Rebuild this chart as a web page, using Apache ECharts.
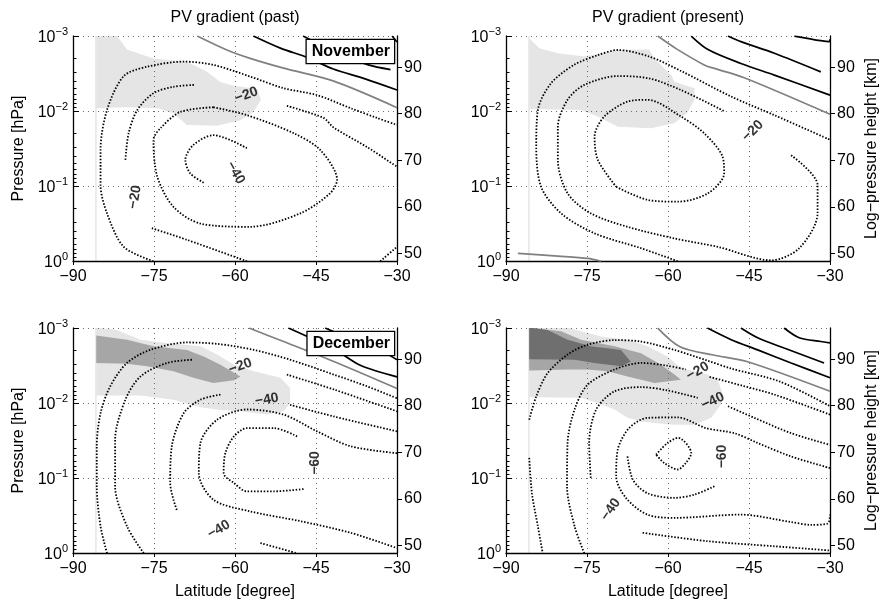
<!DOCTYPE html>
<html>
<head>
<meta charset="utf-8">
<script src="https://cdn.jsdelivr.net/npm/echarts@6/dist/echarts.min.js"></script>
<style>
  html, body { margin: 0; padding: 0; background: #fff; }
  #chart { width: 882px; height: 606px; }
</style>
</head>
<body>
<div id="chart"></div>
<script>
// ---------------------------------------------------------------------------
// Axes: latitude (degree), pressure (hPa, log) and log-pressure height (km)
// ---------------------------------------------------------------------------
const latTicks = [-90, -75, -60, -45, -30];
const pressureTop = 0.001, pressureBottom = 1;
const heightTicks = [50, 60, 70, 80, 90];
const scaleHeight = 7;                         // km, z = H ln(1000 hPa / p)
const zBottom = scaleHeight * Math.log(1000 / pressureBottom);
const zTop = scaleHeight * Math.log(1000 / pressureTop);
const domainEdgeLat = -85.75;                   // poleward edge of the data

const panelTitles = ['PV gradient (past)', 'PV gradient (present)'];
const monthNames = ['November', 'December'];

// Contours are stored as [latitude, log-pressure height km] polylines.

// ---------------- November, past ----------------
const novPastPositive = [
  [[-56.6, 96.7], [-51.6, 94.1], [-46.4, 92.0], [-41.8, 89.6], [-35.9, 87.5], [-30, 85.1]],
  [[-47.4, 96.7], [-41.4, 93.3], [-35.3, 90.5], [-31.2, 89.5]],
  [[-30.9, 96.7], [-30, 95.4]]
];
const novPastZero = [
  [[-67.0, 96.7], [-61.5, 93.7], [-57.2, 91.9], [-51.0, 89.8], [-41.7, 87.0], [-30, 81.3]]
];
const novPastNegative = [
  [[-75.1, 48.3], [-80.6, 51.4], [-83.7, 58.6], [-84.9, 64.7], [-84.9, 72.2], [-83.7, 80.8], [-80.6, 88.1], [-76.3, 90.1], [-69.5, 91.2], [-64.0, 90.5], [-57.2, 88.0], [-51.0, 85.5], [-44.8, 84.0], [-38.6, 81.2], [-33.7, 79.1], [-30, 77.6]],
  [[-57.8, 48.3], [-68.9, 52.9], [-75.4, 55.4]],
  [[-80.3, 70.1], [-79.7, 75.8], [-78.1, 80.8], [-75.1, 84.4], [-71.4, 85.8], [-67.4, 86.2]],
  [[-50.4, 81.7], [-43.6, 79.1], [-41.8, 77.1], [-35.5, 72.8], [-30, 68.6]],
  [[-64.0, 81.4], [-57.8, 79.7], [-49.1, 75.8], [-44.2, 72.2], [-41.1, 65.8], [-42.4, 62.9], [-47.9, 58.6], [-57.2, 55.7], [-66.4, 56.4], [-71.4, 60.0], [-74.4, 66.5], [-75.1, 74.4], [-73.8, 76.9], [-70.1, 80.4], [-64.0, 81.4]],
  [[-65.8, 65.2], [-68.3, 67.2], [-69.2, 70.1], [-67.7, 73.3], [-64.0, 75.4], [-57.8, 72.6]],
  [[-33.1, 48.3], [-30, 51.4]]
];
const novPastShadeLight = [
  [-85.7, 96.8], [-81.9, 96.8], [-80.0, 93.8], [-75.1, 91.9], [-68.9, 91.2], [-65.2, 89.0], [-62.7, 86.8], [-60.3, 86.0],
  [-55.9, 85.3], [-55.2, 83.0], [-56.6, 80.4], [-59.0, 78.6], [-63.3, 77.4], [-68.9, 77.6], [-71.4, 80.1], [-74.4, 81.2],
  [-80.0, 81.4], [-85.7, 81.2]
];
const novPastLabels = [[-57.9, 84.0, -20], [-78.5, 62.1, -20], [-59.9, 67.3, -40]];
const novPastLabelAngles = [20, 80, -60];

// ---------------- November, present ----------------
const novPresPositive = [
  [[-55.7, 96.7], [-52.6, 93.8], [-46.5, 90.8], [-40.3, 88.3], [-30, 84.0]],
  [[-48.9, 96.7], [-46.5, 95.5], [-40.3, 93.0], [-31.7, 89.0]],
  [[-36.6, 96.7], [-31.7, 95.7], [-30.1, 95.5], [-30, 96.0]]
];
const novPresZero = [
  [[-61.9, 96.7], [-58.5, 94.0], [-53.3, 90.5], [-51.6, 89.8], [-46.0, 87.8], [-30, 79.9]],
  [[-87.8, 50.0], [-80.4, 49.4], [-74.9, 48.9], [-72.4, 48.3]]
];
const novPresNegative = [
  [[-58.2, 48.3], [-65.0, 51.1], [-73.6, 54.3], [-79.8, 58.6], [-83.5, 64.3], [-84.4, 72.9], [-84.1, 80.8], [-81.7, 86.5], [-77.4, 90.5], [-73.0, 92.6], [-69.3, 93.7], [-63.5, 92.3], [-57.6, 89.2], [-48.3, 83.7], [-40.3, 79.7], [-30, 74.4]],
  [[-37.2, 71.1], [-32.3, 64.7], [-32.3, 58.6], [-35.7, 51.1], [-40.9, 48.5], [-50.8, 51.4], [-58.8, 53.2], [-67.5, 55.7], [-74.3, 58.6], [-78.6, 62.9], [-80.4, 70.1], [-80.4, 77.2], [-78.6, 83.0], [-75.5, 86.2], [-69.3, 88.1], [-63.5, 87.6], [-57.6, 85.1], [-49.5, 80.5]],
  [[-69.6, 64.3], [-63.8, 61.5], [-58.2, 61.1], [-52.6, 62.9], [-49.6, 67.2], [-49.9, 70.8], [-53.3, 75.8], [-57.6, 79.4], [-63.8, 83.0], [-67.5, 82.6], [-71.8, 79.4], [-73.6, 75.1], [-73.0, 70.1], [-69.6, 64.3]]
];
const novPresShadeLight = [
  [-85.7, 96.2], [-83.8, 94.1], [-80.4, 93.0], [-75.5, 92.3], [-69.3, 93.7], [-63.5, 93.8], [-62.5, 91.9], [-59.4, 88.3],
  [-58.8, 86.9], [-55.1, 85.5], [-55.1, 83.0], [-56.4, 80.2], [-58.8, 78.0], [-63.1, 76.9], [-69.3, 77.2], [-73.0, 79.4],
  [-76.1, 80.8], [-85.7, 81.0]
];
const novPresLabels = [[-44.3, 76.3, -20]];
const novPresLabelAngles = [45];

// ---------------- December, past ----------------
const decPastPositive = [
  [[-50.1, 96.7], [-46.1, 94.6], [-41.4, 92.0], [-36.8, 88.7], [-30, 86.2]],
  [[-43.3, 96.7], [-36.8, 93.5], [-32.3, 91.4], [-30, 89.9]]
];
const decPastZero = [
  [[-57.4, 96.7], [-51.0, 93.8], [-41.7, 89.5], [-30, 83.7]]
];
const decPastNegative = [
  [[-83.7, 48.3], [-84.9, 54.1], [-85.6, 62.7], [-85.6, 71.3], [-84.9, 78.4], [-83.1, 84.2], [-80.0, 89.2], [-75.7, 92.0], [-68.9, 93.6], [-63.3, 93.3], [-56.5, 92.0], [-49.8, 89.9], [-41.7, 86.7], [-35.6, 84.2], [-30, 81.6]],
  [[-76.9, 48.3], [-80.0, 54.1], [-82.2, 62.7], [-82.2, 72.7], [-80.3, 81.3], [-77.5, 86.3], [-72.6, 89.2], [-67.7, 89.9]],
  [[-50.4, 86.7], [-41.7, 83.5], [-30, 78.8]],
  [[-30, 74.5], [-41.7, 77.7], [-49.8, 80.2]],
  [[-62.7, 82.4], [-66.4, 81.3], [-69.5, 78.4], [-71.7, 71.3], [-72.0, 63.4], [-70.7, 57.3]],
  [[-55.3, 50.5], [-48.5, 48.3]],
  [[-30, 69.8], [-38.6, 71.3], [-44.8, 74.5], [-51.0, 78.1], [-57.8, 79.2], [-63.3, 77.0], [-66.4, 72.0], [-66.7, 65.5], [-64.0, 59.8], [-57.2, 57.3], [-47.9, 55.2], [-38.6, 52.7], [-30, 49.4]],
  [[-48.5, 73.4], [-52.8, 75.2], [-57.8, 75.2], [-60.2, 73.4], [-61.8, 69.8], [-62.1, 65.5], [-60.2, 63.4], [-57.8, 61.6], [-52.8, 61.6], [-47.3, 62.1]]
];
const decPastShadeLight = [
  [-85.7, 96.8], [-81.9, 96.3], [-77.5, 94.2], [-72.6, 93.5], [-66.4, 92.8], [-63.3, 91.0], [-60.2, 88.8], [-56.5, 87.4],
  [-51.6, 86.0], [-49.8, 83.8], [-49.8, 80.6], [-51.0, 78.8], [-54.1, 78.1], [-59.0, 78.8], [-63.3, 79.2], [-66.4, 79.7],
  [-71.4, 81.3], [-77.5, 82.2], [-85.7, 82.2]
];
const decPastShadeMid = [
  [-85.7, 95.1], [-80.0, 94.2], [-75.1, 92.8], [-68.9, 92.0], [-65.8, 90.6], [-62.7, 88.8], [-59.0, 86.3], [-60.2, 85.5],
  [-64.0, 84.9], [-67.7, 86.0], [-71.4, 87.4], [-76.3, 88.5], [-80.0, 89.0], [-85.7, 89.2]
];
const decPastLabels = [[-59.0, 88.5, -20], [-54.1, 81.3, -40], [-45.1, 67.7, -60], [-63.0, 53.4, -40]];
const decPastLabelAngles = [20, 10, 90, 30];

// ---------------- December, present ----------------
const decPresPositive = [
  [[-52.7, 96.7], [-48.3, 94.2], [-43.4, 92.0], [-37.2, 89.2], [-30, 86.0]],
  [[-46.5, 96.7], [-43.4, 94.6], [-38.5, 92.4], [-31.1, 89.2]],
  [[-38.5, 96.7], [-35.7, 94.6], [-31.7, 93.8], [-30, 93.5]]
];
const decPresZero = [
  [[-61.9, 96.7], [-57.8, 92.7], [-51.6, 90.9], [-45.4, 89.5], [-30, 83.1]]
];
const decPresNegative = [
  [[-85.7, 77.0], [-84.4, 82.0], [-82.3, 87.0], [-78.6, 91.0], [-74.9, 93.1], [-69.9, 94.1], [-65.0, 93.8], [-58.8, 92.0], [-52.7, 89.7], [-48.3, 88.0], [-39.3, 85.2], [-30, 79.9]],
  [[-85.7, 68.8], [-85.2, 61.2], [-84.1, 54.1], [-83.2, 48.3]],
  [[-75.5, 48.3], [-77.3, 54.1], [-78.7, 62.7], [-78.6, 72.0], [-77.3, 79.2], [-74.9, 84.5], [-69.9, 87.8], [-65.0, 89.2], [-60.1, 88.6], [-56.7, 87.8]],
  [[-52.3, 86.2], [-46.2, 84.3], [-40.3, 82.4], [-30, 78.1]],
  [[-74.3, 64.5], [-74.6, 72.0], [-73.3, 79.2], [-69.9, 83.1], [-65.0, 84.0], [-60.1, 83.3], [-54.5, 81.7]],
  [[-48.9, 79.9], [-44.0, 77.4], [-37.2, 74.1], [-30, 71.6]],
  [[-64.7, 52.7], [-52.7, 50.9], [-40.3, 49.8], [-30, 48.9]],
  [[-30, 66.6], [-37.2, 69.1], [-43.4, 72.0], [-47.7, 74.1], [-53.0, 75.2], [-58.2, 77.5], [-63.8, 77.4], [-67.2, 75.2], [-69.3, 70.6], [-69.6, 64.8], [-67.8, 60.2], [-63.8, 56.6], [-58.8, 55.9], [-46.5, 56.6], [-37.2, 55.0], [-33.5, 54.4], [-30.4, 54.7], [-30, 56.6]],
  [[-67.5, 69.1], [-66.5, 64.1], [-63.8, 61.2], [-58.8, 60.2], [-55.1, 60.9], [-51.4, 62.7]],
  [[-62.2, 69.5], [-60.1, 72.0], [-58.1, 73.1], [-55.7, 69.8], [-56.7, 67.7], [-58.2, 66.3], [-60.7, 67.7], [-62.2, 69.5]]
];
const decPresShadeLight = [
  [-85.7, 96.8], [-78.6, 96.8], [-76.1, 96.0], [-72.4, 94.9], [-67.5, 94.2], [-63.8, 92.8], [-60.1, 90.6], [-57.6, 88.1],
  [-52.7, 86.7], [-50.8, 85.6], [-49.9, 82.7], [-50.2, 80.2], [-52.0, 77.4], [-55.1, 75.9], [-58.8, 75.9], [-62.5, 76.3],
  [-65.0, 76.6], [-67.5, 77.4], [-69.9, 79.2], [-73.0, 80.6], [-76.1, 81.7], [-85.7, 81.8]
];
const decPresShadeMid = [
  [-85.7, 96.8], [-79.8, 96.0], [-76.1, 94.2], [-69.9, 92.8], [-65.0, 91.3], [-61.3, 88.8], [-58.8, 86.7], [-57.6, 85.6],
  [-62.5, 84.9], [-67.5, 86.3], [-71.2, 87.4], [-74.9, 87.8], [-78.6, 87.8], [-85.7, 87.6]
];
const decPresShadeDark = [
  [-85.7, 96.8], [-82.3, 96.3], [-78.6, 94.2], [-74.3, 92.8], [-68.7, 92.0], [-66.9, 89.5], [-68.7, 88.5], [-73.6, 89.2],
  [-77.3, 89.9], [-85.7, 90.0]
];
const decPresLabels = [[-54.5, 87.4, -20], [-51.7, 81.0, -40], [-49.9, 69.1, -60], [-70.6, 57.7, -40]];
const decPresLabelAngles = [30, 25, 90, 55];

// ---------------------------------------------------------------------------
// Styling
// ---------------------------------------------------------------------------
const FONT = 'Liberation Sans, Arial, Helvetica, sans-serif';
const SHADE_LIGHT = '#e5e5e5';
const SHADE_MID = '#a6a6a6';
const SHADE_DARK = '#6f6f6f';
const positiveStyle = { color: '#000', width: 1.7, type: 'solid' };
const zeroStyle = { color: '#808080', width: 1.7, type: 'solid' };
const negativeStyle = { color: '#000', width: 1.8, type: [1.5, 1.7] };
const gridLineStyle = { color: '#6a6a6a', width: 1, type: [1, 4] };

const gridBoxes = [
  { left: 73, top: 36, width: 324, height: 225 },
  { left: 506, top: 36, width: 324, height: 225 },
  { left: 73, top: 328, width: 324, height: 225 },
  { left: 506, top: 328, width: 324, height: 225 }
];

const panels = [
  { positive: novPastPositive, zero: novPastZero, negative: novPastNegative,
    shades: [[novPastShadeLight, SHADE_LIGHT]], labels: novPastLabels, angles: novPastLabelAngles },
  { positive: novPresPositive, zero: novPresZero, negative: novPresNegative,
    shades: [[novPresShadeLight, SHADE_LIGHT]], labels: novPresLabels, angles: novPresLabelAngles },
  { positive: decPastPositive, zero: decPastZero, negative: decPastNegative,
    shades: [[decPastShadeLight, SHADE_LIGHT], [decPastShadeMid, SHADE_MID]], labels: decPastLabels, angles: decPastLabelAngles },
  { positive: decPresPositive, zero: decPresZero, negative: decPresNegative,
    shades: [[decPresShadeLight, SHADE_LIGHT], [decPresShadeMid, SHADE_MID], [decPresShadeDark, SHADE_DARK]],
    labels: decPresLabels, angles: decPresLabelAngles }
];

// minor ticks of the pressure axis: 2..9 x each decade
const pressureMinorTicks = [];
for (let d = -3; d < 0; d++) {
  for (let m = 2; m <= 9; m++) pressureMinorTicks.push(+(m * Math.pow(10, d)).toPrecision(3));
}

const minus = (v) => (v < 0 ? '\u2212' + Math.abs(v) : String(v));

// ---------------------------------------------------------------------------
// Axes (per grid: log pressure axis, height axis, minor-tick pressure axis)
// ---------------------------------------------------------------------------
const xAxes = [], yAxes = [];
const nameStyle = { fontSize: 16, fontFamily: FONT, color: '#000' };
gridBoxes.forEach((g, i) => {
  const isBottom = i >= 2, isLeft = i % 2 === 0;
  xAxes.push({
    type: 'value', gridIndex: i, min: latTicks[0], max: latTicks[latTicks.length - 1], interval: 15,
    axisLine: { show: true, onZero: false, lineStyle: { color: '#000', width: 1.3 } },
    axisTick: { show: true, length: 4, lineStyle: { color: '#000', width: 1 } },
    axisLabel: { fontSize: 16, fontFamily: FONT, color: '#000', margin: 8, formatter: minus },
    splitLine: { show: true, lineStyle: gridLineStyle },
    name: isBottom ? 'Latitude [degree]' : '', nameLocation: 'middle', nameGap: 31, nameTextStyle: nameStyle
  });
  yAxes.push({
    type: 'log', logBase: 10, gridIndex: i, min: pressureTop, max: pressureBottom, inverse: true, position: 'left',
    axisLine: { show: true, onZero: false, lineStyle: { color: '#000', width: 1.3 } },
    axisTick: { show: true, inside: true, length: 6, lineStyle: { color: '#000', width: 1 } },
    axisLabel: {
      margin: 5, showMinLabel: true, showMaxLabel: true,
      formatter: (v) => '{b|10}{e|' + minus(Math.round(Math.log10(v))) + '}',
      rich: {
        b: { fontSize: 16, fontFamily: FONT, color: '#000', verticalAlign: 'bottom' },
        e: { fontSize: 11, fontFamily: FONT, color: '#000', verticalAlign: 'bottom', padding: [0, 0, 8, 0] }
      }
    },
    splitLine: { show: true, lineStyle: gridLineStyle },
    name: isLeft ? 'Pressure [hPa]' : '', nameLocation: 'middle', nameGap: 46, nameTextStyle: nameStyle
  });
  yAxes.push({
    type: 'value', gridIndex: i, min: zBottom, max: zTop, position: 'right',
    axisLine: { show: true, onZero: false, lineStyle: { color: '#000', width: 1.3 } },
    axisTick: { show: true, length: 5, customValues: heightTicks, lineStyle: { color: '#000', width: 1 } },
    axisLabel: { customValues: heightTicks, fontSize: 16, fontFamily: FONT, color: '#000', margin: 7 },
    splitLine: { show: false },
    name: isLeft ? '' : 'Log\u2212pressure height [km]', nameLocation: 'middle', nameRotate: 90, nameGap: 34,
    nameTextStyle: nameStyle
  });
  yAxes.push({
    type: 'log', logBase: 10, gridIndex: i, min: pressureTop, max: pressureBottom, inverse: true, position: 'left',
    axisLine: { show: false },
    axisTick: { show: true, inside: true, length: 3.5, customValues: pressureMinorTicks, lineStyle: { color: '#000', width: 1 } },
    axisLabel: { show: false },
    splitLine: { show: false }
  });
});

// ---------------------------------------------------------------------------
// Series
// ---------------------------------------------------------------------------
const series = [];
const hIdx = (i) => 3 * i + 1;       // height axis of grid i
function contour(pts, i, style) {
  series.push({
    type: 'line', xAxisIndex: i, yAxisIndex: hIdx(i), data: pts, symbol: 'none', showSymbol: false,
    smooth: 0.3, lineStyle: style, silent: true, animation: false, z: 3, clip: true
  });
}
function shade(pts, i, color) {
  series.push({
    type: 'custom', xAxisIndex: i, yAxisIndex: hIdx(i), data: [pts[0]], silent: true, animation: false,
    clip: true, z: -1,
    renderItem: (params, api) => ({
      type: 'polygon',
      shape: { points: pts.map((p) => api.coord(p)) },
      style: { fill: color }
    })
  });
}
panels.forEach((p, i) => {
  // poleward boundary of the data domain
  series.push({
    type: 'line', xAxisIndex: i, yAxisIndex: hIdx(i), data: [[domainEdgeLat, zBottom], [domainEdgeLat, zTop]],
    symbol: 'none', lineStyle: { color: '#d9d9d9', width: 1 }, silent: true, animation: false, z: -2
  });
  p.shades.forEach(([pts, color]) => shade(pts, i, color));
  p.zero.forEach((c) => contour(c, i, zeroStyle));
  p.positive.forEach((c) => contour(c, i, positiveStyle));
  p.negative.forEach((c) => contour(c, i, negativeStyle));
  series.push({
    type: 'scatter', xAxisIndex: i, yAxisIndex: hIdx(i), symbolSize: 1,
    itemStyle: { color: 'rgba(0,0,0,0)' },
    silent: true, animation: false, z: 4,
    data: p.labels.map((l, k) => ({ value: l, label: { rotate: p.angles[k] } })),
    label: {
      show: true, position: 'inside', color: '#000', fontSize: 14, fontWeight: 'bold', fontFamily: FONT,
      formatter: (d) => minus(d.value[2])
    },
    labelLayout: { hideOverlap: false }
  });
});

// ---------------------------------------------------------------------------
// Titles and month tags
// ---------------------------------------------------------------------------
const graphics = [];
panelTitles.forEach((t, k) => {
  const g = gridBoxes[k];
  graphics.push({
    type: 'text', x: g.left + g.width / 2, y: 10,
    style: { text: t, font: '16px ' + FONT, fill: '#000', textAlign: 'center', textVerticalAlign: 'top' }
  });
});
monthNames.forEach((m, k) => {
  const g = gridBoxes[2 * k];
  graphics.push({
    type: 'text', x: g.left + g.width - 3, y: g.top + 4, z: 10,
    style: {
      text: m, font: 'bold 16px ' + FONT, fill: '#000', textAlign: 'right', textVerticalAlign: 'top',
      backgroundColor: '#fff', borderColor: '#000', borderWidth: 1.3, padding: [4, 4, 3, 5]
    }
  });
});

const chart = echarts.init(document.getElementById('chart'), null, { renderer: 'canvas' });
chart.setOption({
  animation: false,
  backgroundColor: '#fff',
  textStyle: { fontFamily: FONT },
  grid: gridBoxes,
  xAxis: xAxes,
  yAxis: yAxes,
  series: series,
  graphic: graphics
});
</script>
</body>
</html>
